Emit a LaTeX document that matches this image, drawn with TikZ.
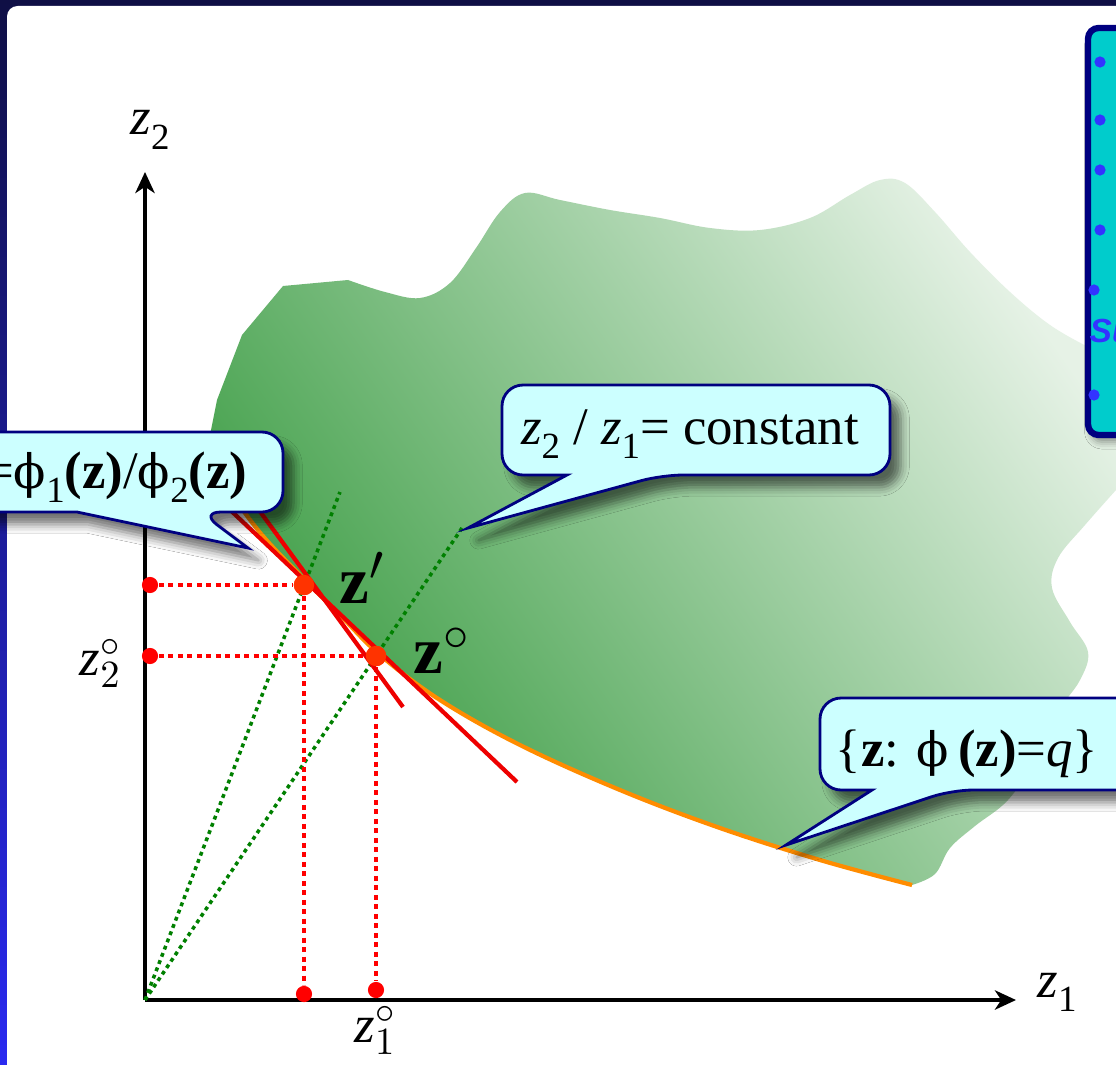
\documentclass[tikz,border=0pt]{standalone}
\usepackage{fontspec}
\setmainfont{Liberation Serif}
\setsansfont{Liberation Sans}
\newfontfamily\phifont[Scale=0.9]{DejaVu Serif}
\usetikzlibrary{arrows.meta, shadows.blur}
\definecolor{frameNavy}{HTML}{0F0F45}
\definecolor{frameBlue}{HTML}{2A2AF0}
\definecolor{blobDark}{HTML}{3A9C42}
\definecolor{blobLight}{HTML}{E6F2E6}
\definecolor{curveOrange}{HTML}{FF8C00}
\definecolor{tanRed}{HTML}{EE0000}
\definecolor{dotRed}{HTML}{FF0000}
\definecolor{ptRed}{HTML}{FF3300}
\definecolor{rayGreen}{HTML}{008000}
\definecolor{calloutFill}{HTML}{CCFFFF}
\definecolor{calloutLine}{HTML}{000080}
\definecolor{boxCyan}{HTML}{00CCCC}
\definecolor{bulletBlue}{HTML}{3333FF}
\newcommand{\lowidx}[1]{\raisebox{-4pt}{\fontsize{10.5}{12}\selectfont #1}}

\begin{document}
\begin{tikzpicture}[x=0.01cm, y=-0.01cm,
    axis/.style={black, line width=1.1pt, -{Stealth[length=6pt, width=5.5pt, inset=1.8pt]}},
    rayLine/.style={rayGreen, line width=1pt, dash pattern=on 1.1pt off 1.1pt},
    guideRed/.style={dotRed, line width=1.1pt, dash pattern=on 1.4pt off 1.3pt},
    tanLine/.style={tanRed, line width=1.2pt},
    axDot/.style={circle, fill=dotRed, inner sep=0pt, minimum size=4.6pt},
    ptDot/.style={circle, fill=ptRed, inner sep=0pt, minimum size=5.8pt},
    calloutBody/.style={draw=calloutLine, line width=0.8pt, fill=calloutFill, blur shadow={shadow xshift=3pt, shadow yshift=-3.5pt, shadow blur radius=2.5pt, shadow opacity=55}},
    calloutText/.style={font=\fontsize{15}{18}\selectfont, inner sep=0pt},
    axLabel/.style={font=\fontsize{15}{18}\selectfont, inner sep=0pt},
    ptLabel/.style={font=\fontsize{19}{22}\selectfont, inner sep=0pt},
]
\useasboundingbox (0,0) rectangle (1116,1064);
\clip (0,0) rectangle (1116,1064);

% frame
\shade[top color=frameNavy, bottom color=frameBlue] (0,0) rectangle (1116,1064);
\fill[white, rounded corners=3pt] (7,6) rectangle (1140,1090);

% region
\shade[left color=blobDark, right color=blobLight, shading angle=125]
    (232,495) -- (208,445) -- (217,400) -- (242,335) -- (283,286) -- (348,280)
    -- plot[smooth, tension=0.6] coordinates {(348,280) (385,292) (420,298) (450,283) (476,248)
        (500,212) (525,193) (560,200) (610,210) (660,218) (710,228) (760,230) (810,218)
        (850,195) (880,180) (905,183) (935,212) (970,252) (1010,292) (1050,325) (1090,348)
        (1116,360) (1140,372)}
    -- (1140,480) -- (1116,490)
    -- plot[smooth, tension=0.6] coordinates {(1116,490) (1085,525) (1058,558) (1052,588)
        (1070,622) (1088,652) (1080,680) (1058,712) (1035,760) (1008,800) (975,826)
        (950,848) (935,874) (912,885)}
    -- plot[smooth, tension=0.6] coordinates {(912,885) (820,860) (720,828) (620,790) (520,745)
        (440,700) (380,655) (340,615) (300,575) (262,535) (232,495)}
    -- cycle;
\draw[curveOrange, line width=1.2pt] plot[smooth, tension=0.6] coordinates {(232,495) (262,535)
    (300,575) (340,615) (380,655) (440,700) (520,745) (620,790) (720,828) (820,860) (912,885)};

% axes
\coordinate (origin) at (145,1000);
\coordinate (yTip) at (145,172);
\coordinate (xTip) at (1016,1000);
\draw[axis] (origin) -- (yTip);
\draw[axis] (origin) -- (xTip);
\node[axLabel, anchor=base] (z2Lbl) at (150,135) {\textit{z}\lowidx{2}};
\node[axLabel, anchor=base] (z1Lbl) at (1057,997) {\textit{z}\lowidx{1}};

% rays through the origin
\coordinate (rayA) at (340,492);
\coordinate (rayB) at (462,528);
\draw[rayLine] (origin) -- (rayA);
\draw[rayLine] (origin) -- (rayB);

% points and dotted guides
\node[ptDot] (zp) at (304,585) {};
\node[ptDot] (zo) at (376,656) {};
\node[axDot] (yp) at (150,585) {};
\node[axDot] (yo) at (150,656) {};
\node[axDot] (xp) at (304,994) {};
\node[axDot] (xo) at (376,990) {};
\draw[guideRed] (yp) -- (zp);
\draw[guideRed] (yo) -- (zo);
\draw[guideRed] (zp) -- (xp);
\draw[guideRed] (zo) -- (xo);

% tangent lines
\coordinate (tanA1) at (215,450);
\coordinate (tanA2) at (403,707);
\coordinate (tanB1) at (225,505);
\coordinate (tanB2) at (517,782);
\draw[tanLine] (tanA1) -- (tanA2);
\draw[tanLine] (tanB1) -- (tanB2);
\node[ptDot] at (zp) {};
\node[ptDot] at (zo) {};

\node[ptLabel, anchor=base west] (zpLbl) at (339,603) {\textbf{z}$'$};
\node[ptLabel, anchor=base west] (zoLbl) at (413,673) {\textbf{z}$^{\circ}$};
\node[axLabel, anchor=base east] (z2oLbl) at (122,675) {$\textit{z}^{\circ}_{2}$};
\node[axLabel, anchor=base west] (z1oLbl) at (354,1042) {$\textit{z}^{\circ}_{1}$};

% callouts
\path[calloutBody] (-40,472) [rounded corners=6pt] -- (-40,432) -- (283,432) -- (283,512)
    -- (200,512) [sharp corners] -- (248,548) -- (77,512) [rounded corners=6pt] -- (-40,512) -- cycle;
\node[calloutText, anchor=base east] (mrsLbl) at (248,488)
    {={\phifont ϕ}\lowidx{1}\textbf{(z)}/{\phifont ϕ}\lowidx{2}\textbf{(z)}};

\path[calloutBody] (502,430) [rounded corners=6pt] -- (502,385) -- (890,385) -- (890,475)
    -- (662,475) [sharp corners] -- (468,528) -- (567,475) [rounded corners=6pt] -- (502,475) -- cycle;
\node[calloutText, anchor=base] (ratioLbl) at (690,444)
    {\textit{z}\lowidx{2} / \textit{z}\lowidx{1}= constant};

\path[calloutBody] (820,744) [rounded corners=6pt] -- (820,698) -- (1140,698) -- (1140,790)
    -- (952,790) [sharp corners] -- (786,845) -- (872,790) [rounded corners=6pt] -- (820,790) -- cycle;
\node[calloutText, anchor=base] (setLbl) at (967,766)
    {\{\textbf{z}: {\phifont ϕ}\,\textbf{(z)}=\textit{q}\}};

% side panel
\draw[draw=calloutLine, line width=1.8pt, fill=boxCyan, rounded corners=3pt,
    blur shadow={shadow xshift=1pt, shadow yshift=-2pt, shadow blur radius=2pt, shadow opacity=40}]
    (1088,28) rectangle (1150,435);
\foreach \y in {62,120,170,230}
    \fill[bulletBlue] (1100,\y) circle (1.6pt);
\foreach \y in {290,395}
    \fill[bulletBlue] (1094,\y) circle (1.6pt);
\node[anchor=base west, inner sep=0pt, text=bulletBlue, font=\sffamily\bfseries\itshape\fontsize{9.5}{12}\selectfont] (panelTxt) at (1089,342) {Su};
\end{tikzpicture}
\end{document}
